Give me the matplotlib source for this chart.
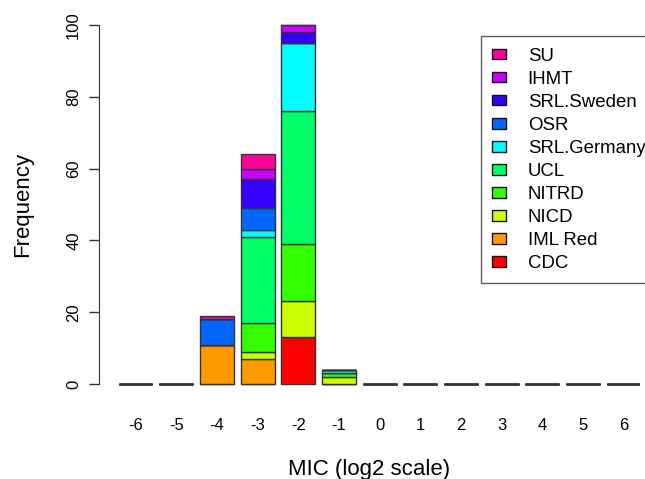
import matplotlib
matplotlib.use("Agg")
import matplotlib.pyplot as plt
import numpy as np

plt.rcParams['font.family'] = ['Liberation Sans', 'DejaVu Sans']

mic_bins = [-6, -5, -4, -3, -2, -1, 0, 1, 2, 3, 4, 5, 6]
series_names = ["CDC", "IML Red", "NICD", "NITRD", "UCL",
                "SRL.Germany", "OSR", "SRL.Sweden", "IHMT", "SU"]
series_colors = ["#FF0000", "#FF9900", "#CCFF00", "#33FF00", "#00FF66",
                 "#00FFFF", "#0066FF", "#3300FF", "#CC00FF", "#FF0099"]

CDC         = [0, 0, 0, 0, 13, 0, 0, 0, 0, 0, 0, 0, 0]
IML_Red     = [0, 0, 11, 7, 0, 0, 0, 0, 0, 0, 0, 0, 0]
NICD        = [0, 0, 0, 2, 10, 2, 0, 0, 0, 0, 0, 0, 0]
NITRD       = [0, 0, 0, 8, 16, 1, 0, 0, 0, 0, 0, 0, 0]
UCL         = [0, 0, 0, 24, 37, 0, 0, 0, 0, 0, 0, 0, 0]
SRL_Germany = [0, 0, 0, 2, 19, 1, 0, 0, 0, 0, 0, 0, 0]
OSR         = [0, 0, 7, 6, 0, 0, 0, 0, 0, 0, 0, 0, 0]
SRL_Sweden  = [0, 0, 0, 8, 3, 0, 0, 0, 0, 0, 0, 0, 0]
IHMT        = [0, 0, 0, 3, 2, 0, 0, 0, 0, 0, 0, 0, 0]
SU          = [0, 0, 1, 4, 0, 0, 0, 0, 0, 0, 0, 0, 0]

series_values = [CDC, IML_Red, NICD, NITRD, UCL, SRL_Germany, OSR,
                 SRL_Sweden, IHMT, SU]
y_ticks = [0, 20, 40, 60, 80, 100]

W, H = 645, 479
fig = plt.figure(figsize=(W / 100, H / 100), dpi=100)
left, bottom, top = 98.5, 398.4, 10.6
right = left + 15.984 * 33.9
ax = fig.add_axes([left / W, 1 - bottom / H, (right - left) / W, (bottom - top) / H])

centers = 0.7 + 1.2 * np.arange(len(mic_bins))
base = np.zeros(len(mic_bins))
handles = []
for name, vals, col in zip(series_names, series_values, series_colors):
    v = np.array(vals, dtype=float)
    b = ax.bar(centers, v, width=1.0, bottom=base, color=col,
               edgecolor="#333333", linewidth=1.0, label=name)
    handles.append(b)
    base += v

ax.set_xlim(-0.392, 15.592)
ax.set_ylim(-4, 104)
for s in ["top", "right", "bottom"]:
    ax.spines[s].set_visible(False)
ax.spines["left"].set_bounds(0, 100)
ax.spines["left"].set_color("#333333")
ax.set_yticks(y_ticks)
ax.set_yticklabels([str(t) for t in y_ticks], rotation=90, va="center", fontsize=12)
ax.tick_params(axis="y", length=7.5, width=1.0, color="#333333", pad=5)
ax.set_xticks(centers)
ax.set_xticklabels([str(m) for m in mic_bins], fontsize=12)
ax.tick_params(axis="x", length=0, pad=14)
ax.set_xlabel("MIC (log2 scale)", fontsize=16, labelpad=19)
ax.set_ylabel("Frequency", fontsize=16, labelpad=24)

leg = ax.legend(handles[::-1], series_names[::-1], loc="upper left",
                bbox_to_anchor=(481 / W, 1 - 36.5 / H), bbox_transform=fig.transFigure,
                fontsize=13.4, frameon=True, fancybox=False, edgecolor="#333333",
                handlelength=0.75, handleheight=0.5, handletextpad=1.16,
                labelspacing=0.325, borderpad=0.6, borderaxespad=0)
leg.get_frame().set_linewidth(1.0)
leg.get_frame().set_edgecolor("#333333")
for p in leg.get_patches():
    p.set_edgecolor("#111111")

fig.savefig("out.png", dpi=100)
